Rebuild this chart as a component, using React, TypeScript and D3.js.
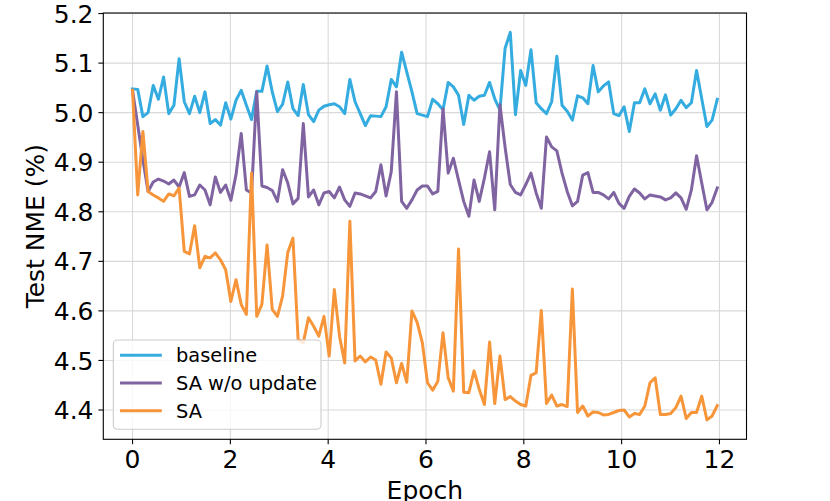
import React from 'react';
import * as d3 from 'd3';

// evaluation step in epochs (114 evaluations)
const EVAL_STEP = 0.1058;
const X_TICKS = [0, 2, 4, 6, 8, 10, 12];
const Y_TICKS = [4.4, 4.5, 4.6, 4.7, 4.8, 4.9, 5.0, 5.1, 5.2];
const SERIES_NAMES = ['baseline', 'SA w/o update', 'SA'];
const SERIES_COLORS = ['#35ace0', '#8064a2', '#f7953a'];

const baseline = [
  5.048, 5.047, 4.992, 5.0, 5.055, 5.027, 5.072, 4.998, 5.015, 5.109,
  5.022, 4.998, 5.033, 5.0, 5.042, 4.978, 4.986, 4.975, 5.02, 4.987,
  5.025, 5.045, 5.015, 4.986, 5.043, 5.043, 5.094, 5.042, 5.002, 5.017,
  5.062, 5.008, 4.994, 5.057, 4.996, 4.982, 5.005, 5.013, 5.016, 5.018,
  5.012, 4.998, 5.067, 5.022, 4.998, 4.974, 4.994, 4.993, 4.992, 5.012,
  5.067, 5.052, 5.122, 5.082, 5.042, 4.998, 4.995, 4.992, 5.027, 5.018,
  5.006, 5.061, 5.052, 5.035, 4.976, 5.035, 5.025, 5.033, 5.035, 5.061,
  5.028, 5.005, 5.13, 5.162, 4.996, 5.085, 5.055, 5.127, 5.02, 5.008,
  4.998, 5.022, 5.114, 5.015, 5.003, 4.985, 5.034, 5.03, 5.018, 5.095,
  5.042, 5.054, 5.062, 4.998, 4.994, 5.012, 4.962, 5.02, 5.02, 5.048,
  5.018, 5.038, 5.005, 5.036, 4.995, 5.008, 5.025, 5.01, 5.02, 5.085,
  5.028, 4.972, 4.985, 5.027,
];

const saNoUpdate = [
  5.045, 4.975, 4.905, 4.841, 4.86, 4.866, 4.862, 4.856, 4.864, 4.85,
  4.879, 4.831, 4.834, 4.854, 4.844, 4.814, 4.87, 4.839, 4.854, 4.823,
  4.875, 4.958, 4.844, 4.838, 5.042, 4.852, 4.849, 4.843, 4.821, 4.885,
  4.858, 4.816, 4.827, 4.978, 4.83, 4.844, 4.814, 4.838, 4.841, 4.828,
  4.85, 4.824, 4.811, 4.838, 4.836, 4.832, 4.828, 4.841, 4.895, 4.832,
  4.881, 5.042, 4.821, 4.807, 4.824, 4.844, 4.852, 4.852, 4.836, 4.841,
  5.008, 4.878, 4.908, 4.864, 4.821, 4.791, 4.864, 4.821, 4.868, 4.921,
  4.804, 5.016, 4.93, 4.855, 4.839, 4.834, 4.855, 4.878, 4.838, 4.807,
  4.951, 4.931, 4.923, 4.878, 4.841, 4.812, 4.821, 4.874, 4.879, 4.839,
  4.839, 4.834, 4.826, 4.839, 4.817, 4.807, 4.831, 4.846, 4.838, 4.826,
  4.834, 4.832, 4.83, 4.824, 4.828, 4.838, 4.828, 4.805, 4.844, 4.913,
  4.858, 4.804, 4.819, 4.848,
];

const sa = [
  5.045, 4.834, 4.962, 4.841, 4.834, 4.828, 4.821, 4.836, 4.832, 4.848,
  4.72, 4.715, 4.772, 4.687, 4.71, 4.707, 4.717, 4.703, 4.683, 4.619,
  4.663, 4.613, 4.593, 4.878, 4.589, 4.613, 4.733, 4.603, 4.589, 4.63,
  4.718, 4.747, 4.542, 4.536, 4.586, 4.569, 4.549, 4.589, 4.509, 4.643,
  4.549, 4.495, 4.781, 4.499, 4.509, 4.497, 4.507, 4.501, 4.452, 4.517,
  4.505, 4.455, 4.494, 4.456, 4.6, 4.577, 4.536, 4.455, 4.44, 4.458,
  4.556, 4.465, 4.438, 4.725, 4.436, 4.435, 4.479, 4.442, 4.411, 4.537,
  4.413, 4.509, 4.421, 4.427, 4.418, 4.411, 4.408, 4.47, 4.475, 4.601,
  4.413, 4.43, 4.408, 4.411, 4.407, 4.644, 4.395, 4.408, 4.388, 4.396,
  4.395, 4.39, 4.391, 4.395, 4.399, 4.4, 4.386, 4.393, 4.391, 4.408,
  4.455, 4.465, 4.391, 4.391, 4.393, 4.405, 4.428, 4.383, 4.395, 4.395,
  4.428, 4.38, 4.388, 4.409,
];

const SERIES = [baseline, saNoUpdate, sa];

const W = 830;
const H = 501;
const M = { left: 103.3, right: 746.5, top: 13, bottom: 439.3 };
const FONT = '"DejaVu Sans", sans-serif';

export default function App() {
  const n = baseline.length;
  const xMax = (n - 1) * EVAL_STEP;
  const x = d3
    .scaleLinear()
    .domain([-0.05 * xMax, 1.05 * xMax])
    .range([M.left, M.right]);

  const all = SERIES.flat();
  const lo = d3.min(all) as number;
  const hi = d3.max(all) as number;
  const pad = (hi - lo) * 0.05;
  const y = d3
    .scaleLinear()
    .domain([lo - pad, hi + pad])
    .range([M.bottom, M.top]);

  const line = d3
    .line<number>()
    .x((_, i) => x(i * EVAL_STEP))
    .y((d) => y(d));

  const tickLen = 4.9;
  const tickFont = 25;
  const legFont = 19.4;

  const legend = { x: 113.3, y: 340, w: 207.7, h: 89.3 };
  const rowY = [355.2, 383, 410.8];

  return (
    <svg
      width={W}
      height={H}
      style={{ position: 'absolute', left: 0, top: 0, display: 'block', background: '#fff' }}
      fontFamily={FONT}
    >
      <rect x={0} y={0} width={W} height={H} fill="#fff" />
      {/* grid */}
      <g stroke="#d9d9d9" strokeWidth={1.1}>
        {X_TICKS.map((t) => (
          <line key={'gx' + t} x1={x(t)} x2={x(t)} y1={M.top} y2={M.bottom} />
        ))}
        {Y_TICKS.map((t) => (
          <line key={'gy' + t} x1={M.left} x2={M.right} y1={y(t)} y2={y(t)} />
        ))}
      </g>
      {/* series */}
      <g fill="none" strokeWidth={3} strokeLinejoin="round" strokeLinecap="square">
        {SERIES.map((s, k) => (
          <path key={k} d={line(s) || ''} stroke={SERIES_COLORS[k]} />
        ))}
      </g>
      {/* spines */}
      <rect
        x={M.left}
        y={M.top}
        width={M.right - M.left}
        height={M.bottom - M.top}
        fill="none"
        stroke="#000"
        strokeWidth={1.1}
      />
      {/* x ticks */}
      <g>
        {X_TICKS.map((t) => (
          <g key={'xt' + t}>
            <line x1={x(t)} x2={x(t)} y1={M.bottom} y2={M.bottom + tickLen} stroke="#000" strokeWidth={1.1} />
            <text x={x(t)} y={M.bottom + tickLen + 4.9 + 0.76 * tickFont} fontSize={tickFont} textAnchor="middle" fill="#000">
              {String(t)}
            </text>
          </g>
        ))}
      </g>
      {/* y ticks */}
      <g>
        {Y_TICKS.map((t) => (
          <g key={'yt' + t}>
            <line x1={M.left - tickLen} x2={M.left} y1={y(t)} y2={y(t)} stroke="#000" strokeWidth={1.1} />
            <text x={M.left - tickLen - 4.9} y={y(t) + 0.365 * tickFont} fontSize={tickFont} textAnchor="end" fill="#000">
              {t.toFixed(1)}
            </text>
          </g>
        ))}
      </g>
      {/* axis labels */}
      <text x={(M.left + M.right) / 2} y={499} fontSize={tickFont} textAnchor="middle" fill="#000">
        Epoch
      </text>
      <text
        transform={`translate(44,${(M.top + M.bottom) / 2}) rotate(-90)`}
        fontSize={tickFont}
        textAnchor="middle"
        fill="#000"
      >
        Test NME (%)
      </text>
      {/* legend */}
      <rect
        x={legend.x}
        y={legend.y}
        width={legend.w}
        height={legend.h}
        rx={4}
        fill="#fff"
        fillOpacity={0.8}
        stroke="#cccccc"
        strokeWidth={1.1}
      />
      {SERIES_NAMES.map((name, k) => (
        <g key={name}>
          <line
            x1={121.5}
            x2={160.3}
            y1={rowY[k]}
            y2={rowY[k]}
            stroke={SERIES_COLORS[k]}
            strokeWidth={3}
            strokeLinecap="square"
          />
          <text x={176} y={rowY[k] + 0.36 * legFont} fontSize={legFont} fill="#000">
            {name}
          </text>
        </g>
      ))}
    </svg>
  );
}
